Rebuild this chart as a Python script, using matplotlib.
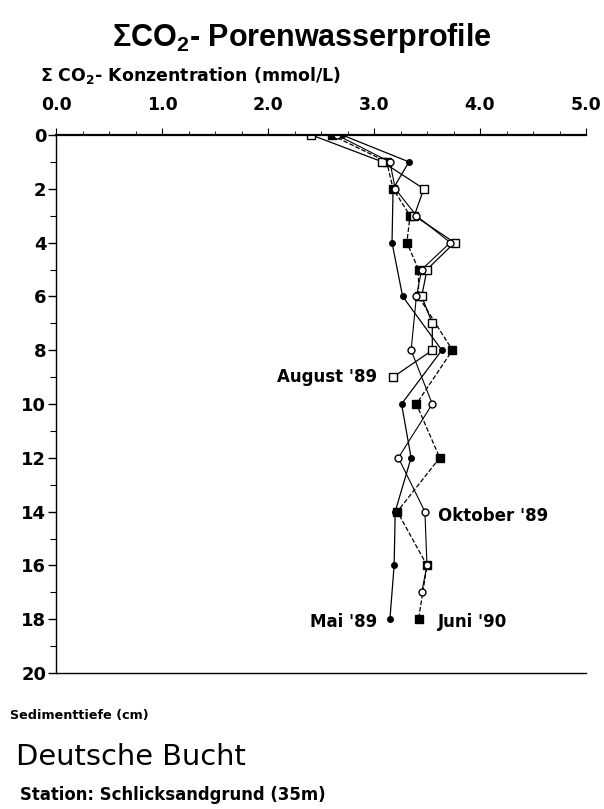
import matplotlib
matplotlib.use("Agg")
import matplotlib.pyplot as plt
from matplotlib.ticker import MultipleLocator

plt.rcParams['font.family'] = ['Liberation Sans', 'DejaVu Sans']
plt.rcParams['mathtext.fontset'] = 'custom'

# Series: depth (cm) and sum CO2 concentration (mmol/L)
mai_depth = [0, 1, 2, 4, 6, 8, 10, 12, 14, 16, 18]
mai_co2 = [2.70, 3.33, 3.18, 3.17, 3.27, 3.64, 3.26, 3.35, 3.20, 3.19, 3.15]

juni_depth = [0, 1, 2, 3, 4, 5, 6, 8, 10, 12, 14, 16, 18]
juni_co2 = [2.60, 3.12, 3.18, 3.34, 3.31, 3.42, 3.42, 3.74, 3.40, 3.62, 3.22, 3.50, 3.42]

aug_depth = [0, 1, 2, 3, 4, 5, 6, 7, 8, 9]
aug_co2 = [2.41, 3.08, 3.47, 3.38, 3.76, 3.50, 3.45, 3.55, 3.55, 3.18]

okt_depth = [0, 1, 2, 3, 4, 5, 6, 8, 10, 12, 14, 16, 17]
okt_co2 = [2.65, 3.15, 3.20, 3.40, 3.72, 3.45, 3.40, 3.35, 3.55, 3.23, 3.48, 3.50, 3.45]

x_ticks = [0.0, 1.0, 2.0, 3.0, 4.0, 5.0]
y_ticks = [0, 2, 4, 6, 8, 10, 12, 14, 16, 18, 20]

HEAVY = 'DejaVu Sans'

fig = plt.figure(figsize=(6.04, 8.09), dpi=100)
ax = fig.add_axes([56/604, 1-673/809, (586-56)/604, (673-135)/809])

ax.plot(mai_co2, mai_depth, color='black', lw=0.9, ls='-', marker='o', ms=4,
        mfc='black', mec='black')
ax.plot(juni_co2, juni_depth, color='black', lw=0.9, ls='--', marker='s', ms=6,
        mfc='black', mec='black')
ax.plot(aug_co2, aug_depth, color='black', lw=0.9, ls='-', marker='s', ms=6,
        mfc='white', mec='black')
ax.plot(okt_co2, okt_depth, color='black', lw=0.8, ls='-', marker='o', ms=5,
        mfc='white', mec='black')

ax.set_xlim(0, 5.0)
ax.set_ylim(20, 0)
ax.xaxis.tick_top()
ax.set_xticks(x_ticks)
ax.set_xticklabels([f"{v:.1f}" for v in x_ticks], fontsize=12.5, fontweight='bold',
                   family=HEAVY)
ax.xaxis.set_minor_locator(MultipleLocator(0.25))
ax.set_yticks(y_ticks)
ax.set_yticklabels([str(v) for v in y_ticks], fontsize=13, fontweight='bold', family=HEAVY)
ax.yaxis.set_minor_locator(MultipleLocator(1))
ax.tick_params(axis='x', which='major', length=5, width=0.8, pad=10)
ax.tick_params(axis='x', which='minor', length=3, width=0.6)
ax.tick_params(axis='y', which='major', length=6, width=1.0, pad=1)
ax.tick_params(axis='y', which='minor', length=4, width=0.8)
ax.spines['right'].set_visible(False)
ax.spines['top'].set_linewidth(1.6)
ax.spines['left'].set_linewidth(1.0)
ax.spines['bottom'].set_linewidth(1.0)

lab = dict(fontsize=12, fontweight='bold', family=HEAVY, va='center')
ax.text(3.03, 9.0, "August '89", ha='right', **lab)
ax.text(3.60, 14.15, "Oktober '89", ha='left', **lab)
ax.text(3.03, 18.1, "Mai '89", ha='right', **lab)
ax.text(3.60, 18.1, "Juni '90", ha='left', **lab)

fig.text(0.5, 1-38/809, r"ΣCO$_\mathregular{2}$- Porenwasserprofile", ha='center', va='center',
         fontsize=22, fontweight='bold')
fig.text(40/604, 1-75/809, r"Σ CO$_\mathregular{2}$- Konzentration (mmol/L)", ha='left',
         va='center', fontsize=12.5, fontweight='bold', family=HEAVY)
fig.text(10/604, 1-716/809, "Sedimenttiefe (cm)", ha='left', va='center',
         fontsize=9.2, fontweight='bold', family=HEAVY)
fig.text(16/604, 1-757/809, "Deutsche Bucht", ha='left', va='center', fontsize=20.8,
         family=HEAVY)
fig.text(20/604, 1-795/809, "Station: Schlicksandgrund (35m)", ha='left', va='center',
         fontsize=11.9, fontweight='bold', family=HEAVY)

fig.savefig("out.png", dpi=100)
